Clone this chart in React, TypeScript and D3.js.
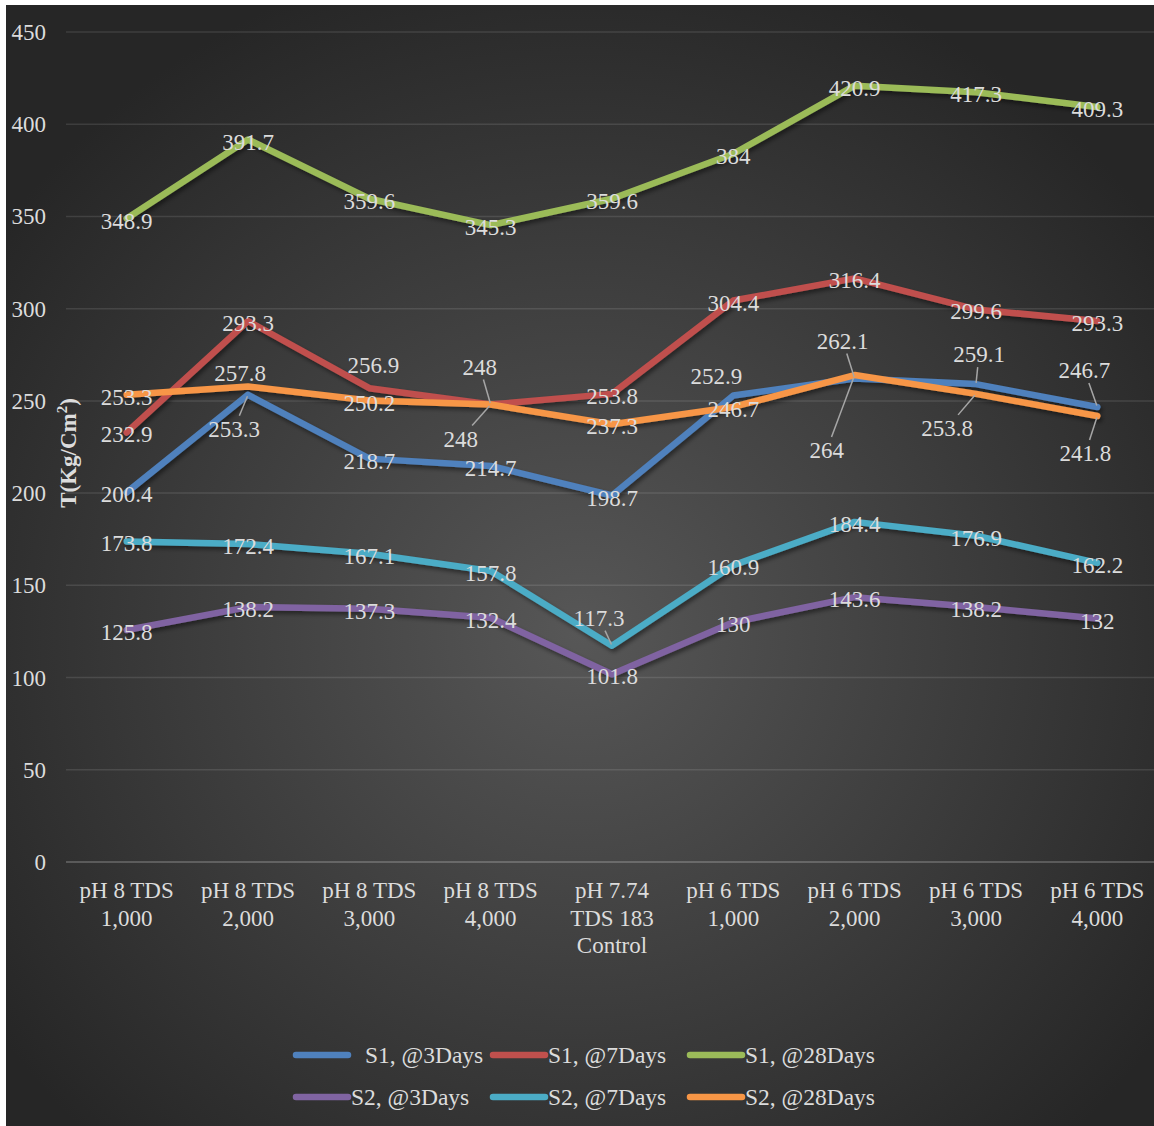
import React, { useEffect, useRef } from 'react';
import * as d3 from 'd3';

// categories (x axis), each entry is the wrapped lines of the tick label
const categories = [
  ['pH 8 TDS', '1,000'],
  ['pH 8 TDS', '2,000'],
  ['pH 8 TDS', '3,000'],
  ['pH 8 TDS', '4,000'],
  ['pH 7.74', 'TDS 183', 'Control'],
  ['pH 6 TDS', '1,000'],
  ['pH 6 TDS', '2,000'],
  ['pH 6 TDS', '3,000'],
  ['pH 6 TDS', '4,000'],
];

const s1Days3 = [200.4, 253.3, 218.7, 214.7, 198.7, 252.9, 262.1, 259.1, 246.7];
const s1Days7 = [232.9, 293.3, 256.9, 248, 253.8, 304.4, 316.4, 299.6, 293.3];
const s1Days28 = [348.9, 391.7, 359.6, 345.3, 359.6, 384, 420.9, 417.3, 409.3];
const s2Days3 = [125.8, 138.2, 137.3, 132.4, 101.8, 130, 143.6, 138.2, 132];
const s2Days7 = [173.8, 172.4, 167.1, 157.8, 117.3, 160.9, 184.4, 176.9, 162.2];
const s2Days28 = [253.3, 257.8, 250.2, 248, 237.3, 246.7, 264, 253.8, 241.8];

const seriesNames = ['S1, @3Days', 'S1, @7Days', 'S1, @28Days', 'S2, @3Days', 'S2, @7Days', 'S2, @28Days'];
const yTicks = [0, 50, 100, 150, 200, 250, 300, 350, 400, 450];

const colors = ['#4f81bd', '#c0504d', '#9bbb59', '#8064a2', '#4bacc6', '#f79646'];

// label nudges (dx, dy from the point) where excel moved the label off the point
// key: series index -> point index -> [dx, dy, leader]
const nudges: Record<number, Record<number, [number, number, boolean]>> = {
  0: { 1: [-14, 34, true], 5: [-17, -20, false], 6: [-12, -38, true], 7: [3, -30, true], 8: [-13, -37, true] },
  1: { 2: [4, -23, false], 3: [-11, -38, true] },
  4: { 4: [-13, -28, true] },
  5: { 1: [-8, -14, false], 3: [-30, 34, true], 6: [-28, 75, true], 7: [-29, 34, true], 8: [-12, 37, true] },
};

const W = 1154;
const H = 1126;
const textColor = '#dcdcdc';
const font = '"Liberation Serif", "Times New Roman", serif';

export default function App() {
  const ref = useRef<SVGSVGElement>(null);

  useEffect(() => {
    const svg = d3.select(ref.current);
    svg.selectAll('*').remove();

    const data = [s1Days3, s1Days7, s1Days28, s2Days3, s2Days7, s2Days28];

    const x = d3.scalePoint<number>().domain(d3.range(categories.length)).range([66, 1158]).padding(0.5);
    const y = d3.scaleLinear().domain([0, 450]).range([862, 32]);

    const defs = svg.append('defs');
    const grad = defs.append('radialGradient').attr('id', 'bg').attr('cx', '50%').attr('cy', '56%').attr('r', '62%');
    grad.append('stop').attr('offset', '0%').attr('stop-color', '#575757');
    grad.append('stop').attr('offset', '100%').attr('stop-color', '#262626');
    defs.append('filter').attr('id', 'shadow').attr('x', '-5%').attr('y', '-20%').attr('width', '110%').attr('height', '140%')
      .append('feDropShadow').attr('dx', 2).attr('dy', 3).attr('stdDeviation', 2)
      .attr('flood-color', '#000').attr('flood-opacity', 0.45);

    svg.append('rect').attr('width', W).attr('height', H).attr('fill', '#fff');
    svg.append('rect').attr('x', 6).attr('y', 5).attr('width', W - 6).attr('height', H - 5).attr('fill', 'url(#bg)');

    // gridlines
    svg.append('g').selectAll('line').data(yTicks).join('line')
      .attr('x1', 66).attr('x2', 1158)
      .attr('y1', (d) => y(d)).attr('y2', (d) => y(d))
      .attr('stroke', (d) => (d === 0 ? 'rgba(255,255,255,0.2)' : 'rgba(255,255,255,0.11)'))
      .attr('stroke-width', (d) => (d === 0 ? 2 : 1.5));

    // y tick labels
    svg.append('g').selectAll('text').data(yTicks).join('text')
      .attr('x', 46).attr('y', (d) => y(d)).attr('dy', '0.35em')
      .attr('text-anchor', 'end').attr('fill', textColor)
      .attr('font-family', font).attr('font-size', 23)
      .text((d) => d);

    // axis title
    const title = svg.append('text')
      .attr('transform', 'translate(76,453) rotate(-90)')
      .attr('text-anchor', 'middle').attr('fill', textColor)
      .attr('font-family', font).attr('font-size', 23).attr('font-weight', 'bold');
    title.append('tspan').text('T(Kg/Cm');
    title.append('tspan').attr('font-size', 15).attr('dy', -9).text('2');
    title.append('tspan').attr('dy', 9).text(')');

    // x tick labels
    const xl = svg.append('g').selectAll('text').data(categories).join('text')
      .attr('text-anchor', 'middle').attr('fill', textColor)
      .attr('font-family', font).attr('font-size', 23);
    xl.each(function (lines, i) {
      const t = d3.select(this);
      lines.forEach((ln, k) => {
        t.append('tspan').attr('x', x(i)!).attr('y', 898 + k * 27.5).text(ln);
      });
    });

    // lines
    const line = d3.line<number>().x((_, i) => x(i)!).y((d) => y(d));
    svg.append('g').attr('filter', 'url(#shadow)').selectAll('path').data(data).join('path')
      .attr('d', (d) => line(d))
      .attr('fill', 'none')
      .attr('stroke', (_, i) => colors[i])
      .attr('stroke-width', 6.5)
      .attr('stroke-linejoin', 'round')
      .attr('stroke-linecap', 'round');

    // data labels + leader lines
    const lab = svg.append('g');
    const leaders = svg.append('g');
    data.forEach((vals, si) => {
      vals.forEach((v, pi) => {
        const px = x(pi)!;
        const py = y(v);
        const nd = nudges[si]?.[pi];
        const dx = nd ? nd[0] : 0;
        const dy = nd ? nd[1] : 2;
        const lx = px + dx;
        const ly = py + dy;
        const txt = String(v);
        lab.append('text')
          .attr('x', lx).attr('y', ly).attr('dy', '0.35em')
          .attr('text-anchor', 'middle').attr('fill', textColor)
          .attr('font-family', font).attr('font-size', 23)
          .text(txt);
        if (nd && nd[2]) {
          // start leader on the label's box edge, heading to the point
          const hw = txt.length * 5.4 + 2;
          const hh = 13;
          const vx = px - lx;
          const vy = py - ly;
          const k = Math.min(Math.abs(vx) > 0 ? hw / Math.abs(vx) : Infinity, Math.abs(vy) > 0 ? hh / Math.abs(vy) : Infinity);
          const sx = lx + vx * k;
          const sy = ly + vy * k;
          leaders.append('line')
            .attr('x1', sx).attr('y1', sy)
            .attr('x2', px - vx * 0.04).attr('y2', py - vy * 0.04)
            .attr('stroke', '#a6a6a6').attr('stroke-width', 1.5);
        }
      });
    });

    // legend
    const leg = svg.append('g');
    seriesNames.forEach((name, i) => {
      const row = Math.floor(i / 3);
      const col = i % 3;
      const lx0 = 296 + col * 197;
      const ly0 = 1055 + row * 42;
      leg.append('line')
        .attr('x1', lx0).attr('x2', lx0 + 52)
        .attr('y1', ly0).attr('y2', ly0)
        .attr('stroke', colors[i]).attr('stroke-width', 6.5).attr('stroke-linecap', 'round');
      leg.append('text')
        .attr('x', lx0 + 55 + (i === 0 ? 14 : 0)).attr('y', ly0).attr('dy', '0.35em')
        .attr('fill', textColor).attr('font-family', font).attr('font-size', 23.5)
        .text(name);
    });
  }, []);

  return (
    <div style={{ position: 'absolute', left: 0, top: 0 }}>
      <svg ref={ref} width={W} height={H} style={{ display: 'block' }} />
    </div>
  );
}
